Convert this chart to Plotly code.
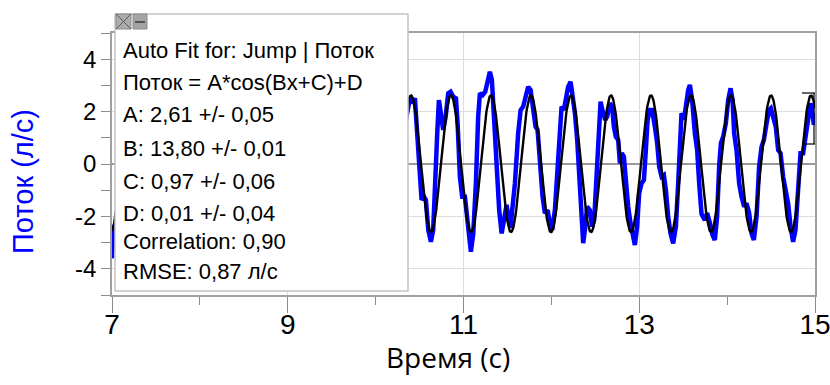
import numpy as np
import plotly.graph_objects as go

# Measured flow for the "Jump" run: time (s) and flow (l/s)
time_s = [
    7.000, 7.018,
    10.333, 10.371, 10.390, 10.421, 10.447, 10.473, 10.504, 10.523, 10.550, 10.572,
    10.599, 10.629, 10.655, 10.683, 10.701, 10.720, 10.743, 10.769, 10.797, 10.826,
    10.853, 10.883, 10.914, 10.933, 10.959, 10.985, 11.016, 11.042, 11.065, 11.084,
    11.111, 11.141, 11.167, 11.187, 11.217, 11.247, 11.274, 11.300, 11.323, 11.346,
    11.377, 11.406, 11.434, 11.460, 11.490, 11.534, 11.585, 11.622, 11.650, 11.679,
    11.710, 11.736, 11.764, 11.793, 11.820, 11.843, 11.869, 11.900, 11.926, 11.957,
    11.983, 12.009, 12.040, 12.066, 12.097, 12.116, 12.142, 12.165, 12.191, 12.219,
    12.241, 12.268, 12.294, 12.324, 12.344, 12.362, 12.381, 12.407, 12.438, 12.464,
    12.487, 12.514, 12.541, 12.560, 12.586, 12.614, 12.635, 12.666, 12.692, 12.711,
    12.734, 12.760, 12.780, 12.802, 12.825, 12.848, 12.874, 12.901, 12.931, 12.950,
    12.976, 12.999, 13.026, 13.053, 13.075, 13.095, 13.121, 13.147, 13.178, 13.204,
    13.227, 13.254, 13.280, 13.303, 13.329, 13.356, 13.386, 13.417, 13.443, 13.462,
    13.481, 13.508, 13.530, 13.557, 13.576, 13.602, 13.633, 13.659, 13.682, 13.709,
    13.747, 13.773, 13.804, 13.834, 13.860, 13.886, 13.909, 13.929, 13.955, 13.985,
    14.012, 14.039, 14.062, 14.080, 14.107, 14.137, 14.164, 14.194, 14.221, 14.251,
    14.278, 14.304, 14.335, 14.364, 14.392, 14.418, 14.449, 14.475, 14.497, 14.524,
    14.554, 14.581, 14.608, 14.637, 14.668, 14.694, 14.722, 14.751, 14.778, 14.808,
    14.835, 14.865, 14.896, 14.922, 14.949, 14.972, 14.987,
]
flow_lps = [
    -3.60, -2.40,
    1.49, 2.13, 2.51, 2.32, 2.51, 1.17, -0.48, -1.37, -1.25, -1.37,
    -2.52, -2.97, -2.52, -0.74, 1.17, 2.44, 1.87, 1.30, 1.81, 2.70,
    2.76, 2.57, 2.51, 1.55, -0.48, -1.25, -1.25, -2.01, -3.03, -3.35,
    -2.65, -0.74, 1.81, 2.70, 2.63, 2.76, 3.14, 3.52, 3.21, 1.81,
    -0.10, -1.76, -2.65, -2.21, -1.56, -2.44, -0.74, 1.17, 2.06, 2.19,
    2.57, 2.95, 2.82, 2.19, 1.42, 1.30, 0.03, -1.25, -1.88, -1.76,
    -2.26, -2.52, -1.76, -0.23, 1.55, 2.19, 2.06, 2.57, 2.95, 3.14,
    2.70, 1.94, 0.92, -0.74, -1.76, -3.02, -2.52, -1.63, -1.76, -2.39,
    -2.14, -0.48, 1.55, 2.38, 1.98, 1.68, 1.81, 2.32, 2.19, 1.42,
    1.04, 0.92, 0.03, 0.41, 0.28, -0.74, -1.63, -2.26, -2.90, -3.09,
    -2.39, -1.12, -0.74, -0.61, 0.53, 1.68, 2.06, 2.06, 1.42, 0.79,
    -0.10, -0.48, -0.42, -0.99, -2.01, -2.65, -3.03, -2.39, -0.74, 1.17,
    1.94, 1.68, 2.32, 2.82, 3.02, 2.44, 1.17, 0.53, -0.74, -1.91,
    -2.14, -1.87, -2.25, -2.71, -2.90, -2.01, -0.10, 0.79, 1.04, 1.55,
    2.44, 2.89, 2.44, 1.17, 0.53, -0.74, -1.25, -1.63, -1.50, -1.88,
    -2.65, -2.90, -2.01, -0.10, 0.66, 0.92, 1.55, 2.06, 2.13, 1.81,
    1.42, 0.53, 0.41, -0.48, -1.12, -1.50, -2.39, -2.97, -2.52, -0.99,
    0.41, 0.41, 1.17, 1.94, 2.32, 1.94, 1.49,
]

# Auto-fit result: Поток = A*cos(Bx+C)+D
fit_A, fit_B, fit_C, fit_D = 2.61, 13.80, 0.97, 0.01
err_A, err_B, err_C, err_D = 0.05, 0.01, 0.06, 0.04
correlation = 0.90
rmse = 0.87

x_range = [7, 15]
y_range = [-5, 5]
x_ticks_major = [7, 9, 11, 13, 15]
y_ticks_major = [-4, -2, 0, 2, 4]

# page / plot-area geometry in pixels
W, H = 830, 385
L, R, T, B = 112, 815, 33, 295


def px(x):
    return (x - L) / (R - L)


def py(y):
    return (B - y) / (B - T)


def num(v):
    return f"{v:.2f}".replace(".", ",")


fit_x = np.linspace(x_range[0], x_range[1], 1601)
fit_y = fit_A * np.cos(fit_B * fit_x + fit_C) + fit_D

fig = go.Figure()
fig.add_trace(go.Scatter(x=time_s, y=flow_lps, mode="lines",
                         line=dict(color="#0000ff", width=4.5),
                         hoverinfo="skip", showlegend=False))
fig.add_trace(go.Scatter(x=fit_x, y=fit_y, mode="lines",
                         line=dict(color="#000000", width=2.4),
                         hoverinfo="skip", showlegend=False))

tick_font = "Liberation Sans, Arial, sans-serif"
fig.update_xaxes(
    range=x_range, tickmode="array", tickvals=x_ticks_major,
    ticktext=[str(v) for v in x_ticks_major],
    ticks="outside", ticklen=16, tickwidth=1, tickcolor="#8c8c8c",
    tickfont=dict(family=tick_font, size=28, color="#000"),
    ticklabelstandoff=-12, ticklabeloverflow="allow", automargin=False,
    showgrid=True, gridcolor="#dddddd", gridwidth=1,
    minor=dict(tickvals=[8, 10, 12, 14], ticks="outside", ticklen=8,
               tickcolor="#8c8c8c", showgrid=False),
    showline=True, linecolor="#a0a0a0", linewidth=1.5, mirror=True,
    zeroline=False, fixedrange=True,
)
fig.update_yaxes(
    range=y_range, tickmode="array", tickvals=y_ticks_major,
    ticktext=[str(v) for v in y_ticks_major],
    ticks="outside", ticklen=9, tickwidth=1, tickcolor="#8c8c8c",
    tickfont=dict(family=tick_font, size=24, color="#000"),
    automargin=False,
    showgrid=True, gridcolor="#dddddd", gridwidth=1,
    minor=dict(tickvals=[-5, -3, -1, 1, 3, 5], ticks="outside", ticklen=9,
               tickcolor="#8c8c8c", showgrid=False),
    showline=True, linecolor="#a0a0a0", linewidth=1.5, mirror=True,
    zeroline=True, zerolinecolor="#9a9a9a", zerolinewidth=1.5,
    fixedrange=True,
)

shapes = []
# fit information box
shapes.append(dict(type="rect", xref="paper", yref="paper",
                   x0=px(115), x1=px(408), y0=py(291), y1=py(14),
                   fillcolor="#ffffff", line=dict(color="#c4c4c4", width=1.5),
                   layer="above"))
# close / minimise buttons
shapes.append(dict(type="rect", xref="paper", yref="paper",
                   x0=px(116), x1=px(131), y0=py(29), y1=py(14),
                   fillcolor="#acacac", line=dict(color="#8a8a8a", width=1),
                   layer="above"))
shapes.append(dict(type="line", xref="paper", yref="paper",
                   x0=px(116), x1=px(131), y0=py(14), y1=py(29),
                   line=dict(color="#5a5a5a", width=1), layer="above"))
shapes.append(dict(type="line", xref="paper", yref="paper",
                   x0=px(116), x1=px(131), y0=py(29), y1=py(14),
                   line=dict(color="#5a5a5a", width=1), layer="above"))
shapes.append(dict(type="rect", xref="paper", yref="paper",
                   x0=px(133), x1=px(147), y0=py(29), y1=py(14),
                   fillcolor="#a4a4a4", line=dict(color="#8a8a8a", width=1),
                   layer="above"))
shapes.append(dict(type="line", xref="paper", yref="paper",
                   x0=px(135), x1=px(145), y0=py(22), y1=py(22),
                   line=dict(color="#555555", width=2), layer="above"))
# fit range bracket at the right edge
for (xa, ya, xb, yb) in [(802, 93, 815, 93), (814, 93, 814, 144), (803, 144, 815, 144)]:
    shapes.append(dict(type="line", xref="paper", yref="paper",
                       x0=px(xa), x1=px(xb), y0=py(ya), y1=py(yb),
                       line=dict(color="#000000", width=1.2), layer="above"))

box_lines = [
    "Auto Fit for: Jump | Поток",
    "Поток = A*cos(Bx+C)+D",
    f"A: {num(fit_A)} +/- {num(err_A)}",
    f"B: {num(fit_B)} +/- {num(err_B)}",
    f"C: {num(fit_C)} +/- {num(err_C)}",
    f"D: {num(fit_D)} +/- {num(err_D)}",
    f"Correlation: {num(correlation)}",
    f"RMSE: {num(rmse)} л/с",
]
line_y = [50, 82, 115, 148, 181, 213, 242, 271]

annotations = []
for text, yy in zip(box_lines, line_y):
    annotations.append(dict(text=text, xref="paper", yref="paper",
                            x=px(121), y=py(yy), xanchor="left", yanchor="middle",
                            showarrow=False,
                            font=dict(family=tick_font, size=22, color="#000")))

annotations.append(dict(text="Поток (л/с)", xref="paper", yref="paper",
                        x=px(23), y=py(182), xanchor="center", yanchor="middle",
                        textangle=-90, showarrow=False,
                        font=dict(family=tick_font, size=29, color="#0000ff")))
annotations.append(dict(text="Время (с)", xref="paper", yref="paper",
                        x=px(448), y=py(357), xanchor="center", yanchor="middle",
                        showarrow=False,
                        font=dict(family="Open Sans, sans-serif", size=28, color="#000")))

fig.update_layout(
    width=W, height=H,
    margin=dict(l=L, r=W - R, t=T, b=H - B, pad=0, autoexpand=False),
    paper_bgcolor="#ffffff", plot_bgcolor="#ffffff",
    shapes=shapes, annotations=annotations,
    showlegend=False,
)

fig.write_html("out.html", config={"displayModeBar": False})
